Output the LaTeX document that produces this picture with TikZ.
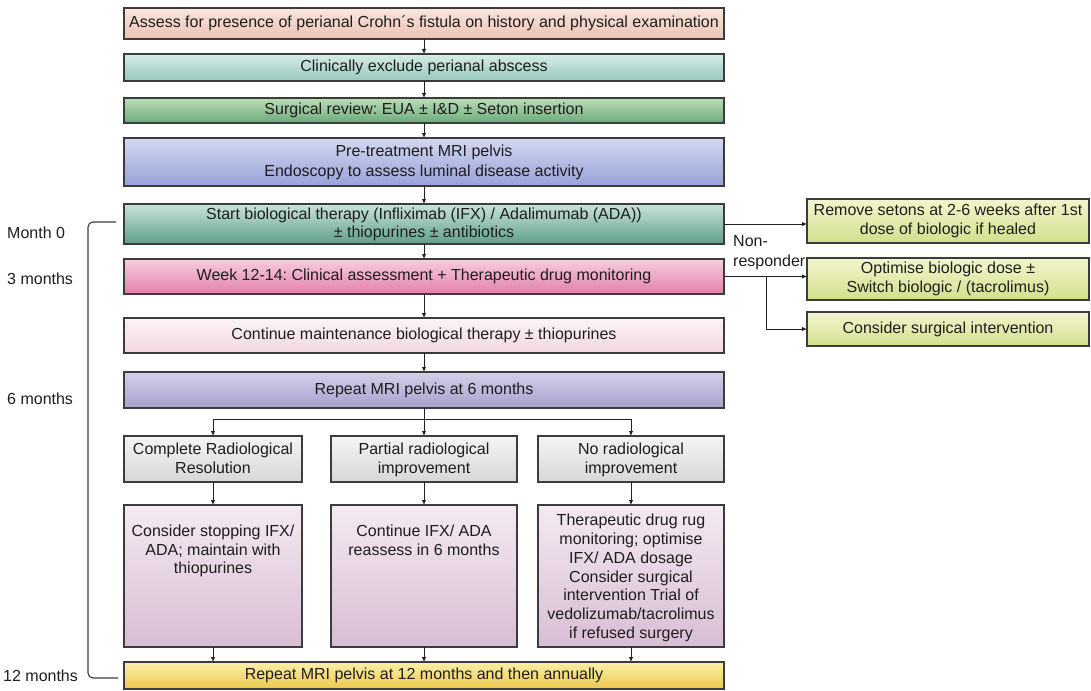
\documentclass[tikz,border=0pt]{standalone}
\usepackage{fontspec}
\setmainfont{Liberation Sans}
\usetikzlibrary{arrows.meta}
\frenchspacing

% box fills: top and bottom of each vertical gradient
\definecolor{peachT}{HTML}{F9E6DE}\definecolor{peachB}{HTML}{ECC2B2}
\definecolor{mintT}{HTML}{D7ECE7}\definecolor{mintB}{HTML}{96C7BC}
\definecolor{greenT}{HTML}{BCDDB7}\definecolor{greenB}{HTML}{6DA97C}
\definecolor{blueT}{HTML}{D4D8F1}\definecolor{blueB}{HTML}{96A1D8}
\definecolor{tealT}{HTML}{C9E3DA}\definecolor{tealB}{HTML}{5E9E8A}
\definecolor{pinkT}{HTML}{F8CEDF}\definecolor{pinkB}{HTML}{E17FA9}
\definecolor{paleT}{HTML}{FCF3F6}\definecolor{paleB}{HTML}{F1D7E1}
\definecolor{lavT}{HTML}{D2D0E8}\definecolor{lavB}{HTML}{A6A1CF}
\definecolor{greyT}{HTML}{F4F4F4}\definecolor{greyB}{HTML}{D6D7D9}
\definecolor{mauveT}{HTML}{F4EAF1}\definecolor{mauveB}{HTML}{D8BDD5}
\definecolor{goldT}{HTML}{FBF0A8}\definecolor{goldB}{HTML}{ECC84C}
\definecolor{limeT}{HTML}{F3F5CE}\definecolor{limeB}{HTML}{D3DF8C}
\definecolor{edge}{HTML}{3C3C3C}
\definecolor{wire}{HTML}{222222}
\definecolor{ink}{HTML}{1E1E1E}

\begin{document}
\begin{tikzpicture}[x=1pt,y=-1pt,
  box/.style={draw=edge, line width=1.3pt, inner sep=2pt, outer sep=0pt, text=ink,
    align=center, font=\fontsize{16}{18.5}\selectfont},
  wide/.style={box, minimum width=600pt},
  shade2/.style 2 args={top color=#1, bottom color=#2},
  arr/.style={draw=wire, line width=0.9pt, -{Latex[length=5pt,width=4.5pt]}},
  line/.style={draw=wire, line width=0.9pt},
  bracket/.style={draw=edge, line width=1.1pt, rounded corners=5pt},
  side/.style={anchor=west, inner sep=0pt, text=ink, font=\fontsize{16}{20}\selectfont, align=left}
]
\useasboundingbox (0,0) rectangle (1091,690);

% main column
\node[wide, shade2={peachT}{peachB}, minimum height=31pt] (A) at (424,23.5)
  {Assess for presence of perianal Crohn´s fistula on history and physical examination};
\node[wide, shade2={mintT}{mintB}, minimum height=27pt] (B) at (424,67.5)
  {Clinically exclude perianal abscess};
\node[wide, shade2={greenT}{greenB}, minimum height=25pt] (C) at (424,110.5)
  {Surgical review: EUA ± I\&D ± Seton insertion};
\node[wide, shade2={blueT}{blueB}, minimum height=48pt, font=\fontsize{16}{20}\selectfont] (D) at (424,162)
  {Pre-treatment MRI pelvis\\Endoscopy to assess luminal disease activity};
\node[wide, shade2={tealT}{tealB}, minimum height=40pt, font=\fontsize{16}{18}\selectfont] (E) at (424,224)
  {Start biological therapy (Infliximab (IFX) / Adalimumab (ADA))\\± thiopurines ± antibiotics};
\node[wide, shade2={pinkT}{pinkB}, minimum height=35pt] (F) at (424,276.5)
  {Week 12-14: Clinical assessment + Therapeutic drug monitoring};
\node[wide, shade2={paleT}{paleB}, minimum height=35pt] (G) at (424,335.5)
  {Continue maintenance biological therapy ± thiopurines};
\node[wide, shade2={lavT}{lavB}, minimum height=36pt] (H) at (424,390)
  {Repeat MRI pelvis at 6 months};

% response after six months
\tikzset{gbox/.style={box, shade2={greyT}{greyB}, minimum height=46pt,
  font=\fontsize{16}{19.5}\selectfont, text depth=2pt}}
\node[gbox, minimum width=178pt] (g1) at (213,459) {Complete Radiological\\Resolution};
\node[gbox, minimum width=186pt] (g2) at (424,459) {Partial radiological\\improvement};
\node[gbox, minimum width=186pt] (g3) at (631,459) {No radiological\\improvement};

\tikzset{pbox/.style={box, shade2={mauveT}{mauveB}, inner sep=0pt}}
\node[pbox] (p1) at (213,576)
  {\parbox[c][142pt][t]{178pt}{\centering\vspace*{20pt}Consider stopping IFX/\\ADA; maintain with\\thiopurines}};
\node[pbox] (p2) at (424,576)
  {\parbox[c][142pt][t]{186pt}{\centering\vspace*{20pt}Continue IFX/ ADA\\reassess in 6 months}};
\node[pbox] (p3) at (631,576)
  {\parbox[c][142pt][t]{186pt}{\centering\fontsize{16}{18.8}\selectfont\vspace*{9pt}Therapeutic drug rug\\monitoring; optimise\\IFX/ ADA dosage\\Consider surgical\\intervention Trial of\\vedolizumab/tacrolimus\\if refused surgery}};

\node[wide, shade2={goldT}{goldB}, minimum height=27pt] (Y) at (424,675.5)
  {Repeat MRI pelvis at 12 months and then annually};

% side branch
\tikzset{rbox/.style={box, shade2={limeT}{limeB}, minimum width=282pt}}
\node[rbox, minimum height=44pt, font=\fontsize{16}{19}\selectfont] (R1) at (948,221)
  {Remove setons at 2-6 weeks after 1st\\dose of biologic if healed};
\node[rbox, minimum height=42pt] (R2) at (948,279)
  {Optimise biologic dose ±\\Switch biologic / (tacrolimus)};
\node[rbox, minimum height=34pt] (R3) at (948,329)
  {Consider surgical intervention};
\node[side] (nr) at (733,253) {Non-\\responder};

% timeline
\node[side] (t0) at (7,233) {Month 0};
\node[side] (t3) at (7,279) {3 months};
\node[side] (t6) at (7,399) {6 months};
\node[side] (t12) at (3,676) {12 months};
\coordinate (bT) at (116,222);
\coordinate (bTL) at (88,222);
\coordinate (bBL) at (88,678);
\coordinate (bB) at (118,678);
\draw[bracket] (bT) -- (bTL) -- (bBL) -- (bB);

% connectors
\draw[arr] (A) -- (B);
\draw[arr] (B) -- (C);
\draw[arr] (C) -- (D);
\draw[arr] (D) -- (E);
\draw[arr] (E) -- (F);
\draw[arr] (F) -- (G);
\draw[arr] (G) -- (H);
\draw[arr] (H) -- (g2);
\coordinate (split) at (424,419);
\draw[line] (g1.north |- split) -- (g3.north |- split);
\draw[arr] (g1.north |- split) -- (g1.north);
\draw[arr] (g3.north |- split) -- (g3.north);
\draw[arr] (g1) -- (p1);
\draw[arr] (g2) -- (p2);
\draw[arr] (g3) -- (p3);
\draw[arr] (p1.south) -- (p1.south |- Y.north);
\draw[arr] (p2.south) -- (p2.south |- Y.north);
\draw[arr] (p3.south) -- (p3.south |- Y.north);

\draw[arr] (E.east) -- (E.east -| R1.west);
\draw[arr] (F.east) -- (F.east -| R2.west);
\coordinate (fork) at (766,276.5);
\draw[arr] (fork) |- (R3.west);
\end{tikzpicture}
\end{document}
